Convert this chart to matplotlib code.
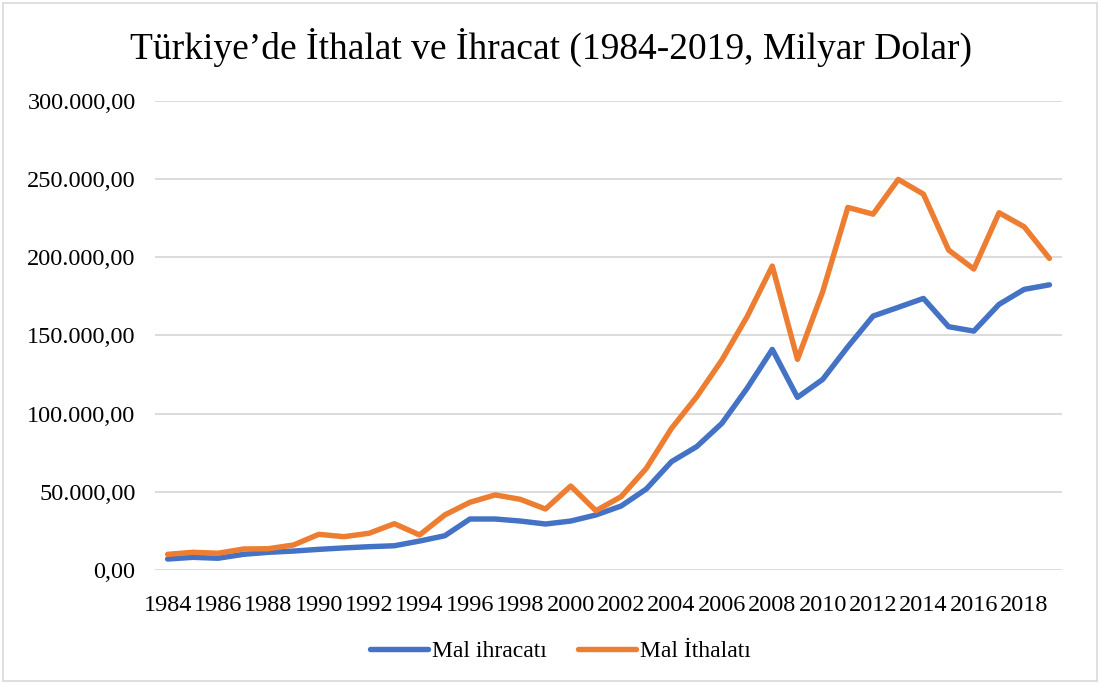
import matplotlib
matplotlib.use("Agg")
from matplotlib import pyplot as plt
from matplotlib.ticker import FuncFormatter
from matplotlib.patches import Rectangle

plt.rcParams['font.family'] = ['Liberation Serif', 'DejaVu Serif']

# values (million USD)
years = list(range(1984, 2020))
ihracat = [7.0, 8.1, 7.5, 10.0, 11.3, 12.1, 13.2, 14.1, 14.9, 15.5, 18.5, 21.9,
           32.6, 32.6, 31.3, 29.4, 31.3, 35.2, 40.9, 51.8, 69.3, 78.9, 93.8, 116.2,
           141.1, 110.4, 121.9, 142.8, 162.4, 168.0, 173.7, 155.6, 152.8, 169.9, 179.5, 182.4]
ithalat = [10.0, 11.3, 10.7, 13.4, 13.6, 16.0, 22.8, 21.3, 23.5, 29.6, 22.4, 35.2,
           43.3, 48.0, 45.2, 39.0, 53.7, 37.9, 46.9, 65.0, 90.6, 110.8, 134.3, 162.0,
           194.4, 134.7, 178.0, 231.9, 227.6, 249.8, 240.4, 204.6, 192.5, 228.5, 219.5, 199.3]
ihracat = [v * 1000 for v in ihracat]
ithalat = [v * 1000 for v in ithalat]

title = 'Türkiye’de İthalat ve İhracat (1984-2019, Milyar Dolar)'
labels = ['Mal ihracatı', 'Mal İthalatı']
colors = ['#4472C4', '#ED7D31']


def tr_fmt(v, pos):
    s = '{:,.2f}'.format(v)
    return s.replace(',', 'X').replace('.', ',').replace('X', '.')


fig = plt.figure(figsize=(11.01, 6.84), dpi=100)
ax = fig.add_axes([0.1408, 0.1667, 0.8238, 0.6857])

ax.plot(years, ihracat, color=colors[0], lw=3.9, label=labels[0], solid_capstyle='round')
ax.plot(years, ithalat, color=colors[1], lw=3.9, label=labels[1], solid_capstyle='round')

ax.set_xlim(1983.5, 2019.5)
ax.set_ylim(0, 300000)
ax.set_yticks(range(0, 300001, 50000))
ax.yaxis.set_major_formatter(FuncFormatter(tr_fmt))
ax.set_xticks(years[::2])
ax.set_xticklabels([str(y) for y in years[::2]])
ax.grid(axis='y', color='#D9D9D9', lw=1.3)
ax.set_axisbelow(True)
for s in ax.spines.values():
    s.set_visible(False)
ax.tick_params(axis='both', length=0, labelsize=17.5)
ax.tick_params(axis='y', pad=14)
ax.tick_params(axis='x', pad=18)

fig.text(0.5, 0.93, title, ha='center', va='center', fontsize=27)

ax.legend(loc='center', bbox_to_anchor=(0.509, 0.048), bbox_transform=fig.transFigure,
          ncol=2, frameon=False, fontsize=17, handlelength=2.45, columnspacing=1.3,
          handletextpad=0.2)

fig.patches.append(Rectangle((0.003, 0.005), 0.993, 0.99, transform=fig.transFigure,
                             fill=False, edgecolor='#D9D9D9', lw=1.2))

fig.savefig('out.png', dpi=100)
